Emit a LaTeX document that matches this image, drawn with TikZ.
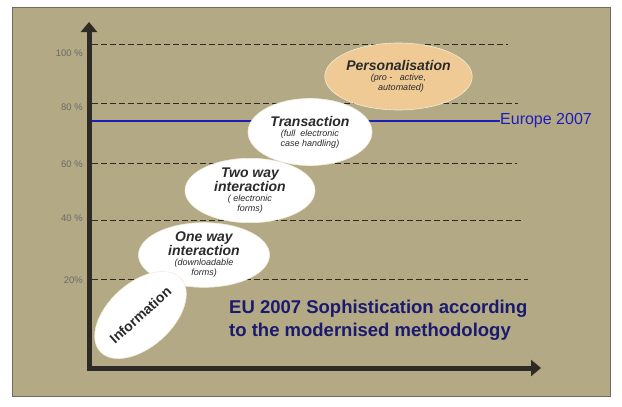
\documentclass[tikz,border=0pt]{standalone}
\usepackage{fontspec}
\setmainfont{Liberation Sans}
\usetikzlibrary{arrows.meta, positioning, shapes.geometric}
\definecolor{cpanel}{HTML}{B3A985}
\definecolor{cframe}{HTML}{6E6A5E}
\definecolor{caxis}{HTML}{2E2A25}
\definecolor{cnavy}{HTML}{1A1A6E}
\definecolor{cblue}{HTML}{1E1EB8}
\definecolor{cpeach}{HTML}{EFCA94}
\definecolor{cink}{HTML}{2A2A2A}
\definecolor{cedge}{HTML}{F1ECDA}
\newcommand{\stagefont}{\fontsize{14}{15}\selectfont\bfseries}
\tikzset{
  every picture/.style={x=1pt, y=-1pt},
  gridline/.style={dash pattern=on 6pt off 3pt, line width=0.9pt, draw=caxis},
  axis/.style={line width=5pt, draw=caxis, {Triangle[length=10pt, width=16pt]}-{Triangle[length=10pt, width=16pt]}},
  pct/.style={font=\fontsize{9.5}{11}\selectfont, text=cink!70, anchor=east, inner sep=0pt},
  stage/.style={ellipse, fill=#1, draw=cedge, line width=0.6pt, align=center, inner sep=0pt, text=cink, font=\fontsize{9}{10}\selectfont\itshape},
  stage/.default=white,
}
\begin{document}
\begin{tikzpicture}
  \useasboundingbox (0,0) rectangle (622,407);
  \draw[draw=cframe, fill=cpanel, line width=0.8pt] (12,7) rectangle (610,396);

  \foreach \y/\xe/\ly/\lab in {44/508/53/100 \%, 103/518/107/80 \%, 163/517/164/60 \%, 220/522/218/40 \%, 279/528/280/20\%}{
    \draw[gridline] (92,\y) -- (\xe,\y);
    \node[pct] at (83,\ly) {\lab};
  }

  \node[anchor=west, inner sep=0pt, text=cblue, font=\fontsize{16}{18}\selectfont] (europe) at (500,121) {Europe 2007};
  \coordinate (yaxis) at (89,121);
  \draw[cblue, line width=1.2pt] (yaxis) -- (europe.west);

  \coordinate (origin) at (89,368);
  \coordinate (ytop) at (89,22);
  \coordinate (xend) at (541,368);
  \draw[axis] (ytop) -- (origin) -- (xend);

  \node[stage=cpeach, minimum width=141pt, minimum height=67pt] (pers) at (398.5,76.5) {{\stagefont Personalisation}\\(pro -\ \ \ active,\\\ \ automated)};
  \node[stage, minimum width=124pt, minimum height=67pt] (trans) at (310,132) {{\stagefont Transaction}\\(full\ \ electronic\\case handling)};
  \node[stage, minimum width=130pt, minimum height=56pt] (two) at (250,190.5) {{\stagefont Two way}\\{\stagefont interaction}\\( electronic\\forms)};
  \node[stage, minimum width=131pt, minimum height=61pt] (one) at (204,255) {{\stagefont One way}\\{\stagefont interaction}\\(downloadable\\forms)};
  \node[stage, minimum width=94pt, minimum height=64pt, rotate=42, font=\fontsize{14}{15}\selectfont\bfseries] (info) at (140.5,315) {Information};

  \node[anchor=west, align=left, inner sep=0pt, text=cnavy, font=\fontsize{18.5}{23}\selectfont\bfseries] (title) at (229,320) {EU 2007 Sophistication according\\to the modernised methodology};
\end{tikzpicture}
\end{document}
